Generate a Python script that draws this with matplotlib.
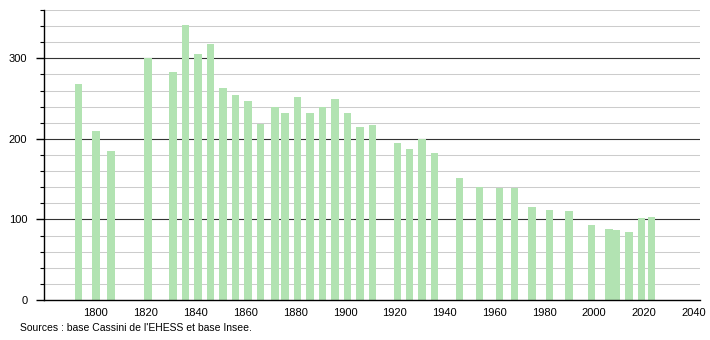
import matplotlib
matplotlib.use("Agg")
import matplotlib.pyplot as plt
from matplotlib.ticker import MultipleLocator, FixedLocator

years = [1793, 1800, 1806, 1821, 1831, 1836, 1841, 1846, 1851, 1856,
         1861, 1866, 1872, 1876, 1881, 1886, 1891, 1896, 1901, 1906,
         1911, 1921, 1926, 1931, 1936, 1946, 1954, 1962, 1968, 1975,
         1982, 1990, 1999, 2006, 2009, 2014, 2019, 2023]
population = [268, 210, 185, 301, 283, 341, 306, 318, 263, 255,
              247, 219, 240, 232, 252, 232, 240, 250, 232, 215,
              217, 195, 187, 200, 183, 151, 140, 139, 139, 115,
              112, 111, 93, 88, 87, 85, 102, 103]
x_ticks = [1800, 1820, 1840, 1860, 1880, 1900, 1920, 1940, 1960, 1980, 2000, 2020, 2040]
y_ticks = [0, 100, 200, 300]
source_text = "Sources : base Cassini de l'EHESS et base Insee."

plt.rcParams['font.family'] = ['Liberation Sans', 'DejaVu Sans']

fig = plt.figure(figsize=(7.1, 3.4), dpi=100)
ax = fig.add_axes([44/710, 40/340, 656/710, 290/340])

ax.set_xlim(1779.2, 2042.5)
ax.set_ylim(0, 360)

# grid lines
for v in range(20, 361, 20):
    if v % 100 == 0:
        ax.axhline(v, color='#333333', lw=0.8, zorder=1)
    else:
        ax.axhline(v, color='#cccccc', lw=0.75, zorder=1)

ax.bar(years, population, width=3.0, color='#b2e3b2', zorder=2, linewidth=0)

for s in ['top', 'right']:
    ax.spines[s].set_visible(False)
ax.spines['left'].set_color('black')
ax.spines['bottom'].set_color('black')
ax.spines['left'].set_linewidth(1)
ax.spines['bottom'].set_linewidth(1)

ax.yaxis.set_major_locator(FixedLocator(y_ticks))
ax.yaxis.set_minor_locator(MultipleLocator(20))
ax.set_yticklabels([str(v) for v in y_ticks])
ax.tick_params(axis='y', which='major', length=6, width=1, labelsize=8, pad=6, colors='black')
ax.tick_params(axis='y', which='minor', length=3, width=0.8, colors='black')

ax.set_xticks(x_ticks)
ax.set_xticklabels([str(v) for v in x_ticks])
ax.tick_params(axis='x', which='both', length=0, labelsize=8, pad=6)

fig.text(20/710, 1 - 328/340, source_text, fontsize=7.5, va='center', ha='left')

fig.savefig('out.png', dpi=100)
